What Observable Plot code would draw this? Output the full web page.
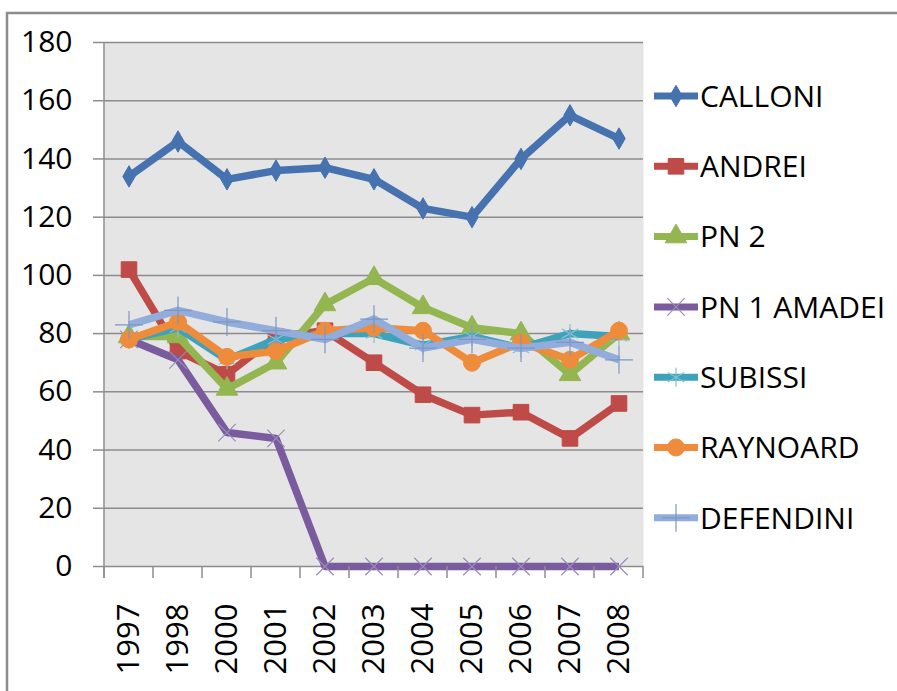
<!DOCTYPE html>
<html>
<head>
<meta charset="utf-8">
<script src="https://cdn.jsdelivr.net/npm/d3@7"></script>
<script src="https://cdn.jsdelivr.net/npm/@observablehq/plot@0.6"></script>
<style>
  html, body { margin: 0; padding: 0; background: #fff; }
  svg { display: block; }
</style>
</head>
<body>
<div id="chart"></div>
<script>
// ---- data ----
const years = ["1997","1998","2000","2001","2002","2003","2004","2005","2006","2007","2008"];
const yTicks = [0, 20, 40, 60, 80, 100, 120, 140, 160, 180];
const seriesNames = ["CALLONI","ANDREI","PN 2","PN 1 AMADEI","SUBISSI","RAYNOARD","DEFENDINI"];
const calloni    = [134, 146, 133, 136, 137, 133, 123, 120, 140, 155, 147];
const andrei     = [102,  74,  66,  79,  81,  70,  59,  52,  53,  44,  56];
const pn2        = [ 79,  79,  61,  70,  90,  99,  89,  82,  80,  66,  80];
const pn1Amadei  = [ 78,  71,  46,  44,   0,   0,   0,   0,   0,   0,   0];
const subissi    = [ 78,  82,  71,  78,  80,  80,  76,  79,  75,  80,  79];
const raynoard   = [ 78,  84,  72,  74,  81,  82,  81,  70,  77,  71,  81];
const defendini  = [ 83,  88,  84,  81,  78,  85,  75,  78,  75,  77,  71];
const seriesValues = [calloni, andrei, pn2, pn1Amadei, subissi, raynoard, defendini];

// ---- styles ----
const colors = ["#4672b0", "#be4b48", "#93b650", "#7a5c9e", "#3fa2bb", "#ef8c3b", "#92acdb"];
const markerStroke = ["#4672b0", "#be4b48", "#93b650", "#9a8cb8", "#7fc3d6", "#ef8c3b", "#7d97c4"];
const symbols = ["diamond", "square", "triangle", "times", "asterisk", "circle", "plus"];
const radii = [6.5, 8.8, 8, 8, 9, 8.5, 9];
const filled = [true, true, true, false, false, true, false];

const rows = seriesNames.flatMap((s, i) =>
  years.map((yr, j) => ({series: s, year: yr, value: seriesValues[i][j]})));

const W = 897, H = 691;
const mL = 104, mR = 254, mT = 42, mB = 125;
const font = "'Open Sans', 'Noto Sans', sans-serif";

const seriesMarks = seriesNames.flatMap((s, i) => {
  const d = rows.filter(r => r.series === s);
  return [
    Plot.line(d, {x: "year", y: "value", stroke: colors[i], strokeWidth: 7.5, strokeLinejoin: "round", strokeLinecap: "butt"}),
    Plot.dot(d, {x: "year", y: "value", symbol: () => symbols[i], r: radii[i],
      fill: filled[i] ? colors[i] : "none",
      stroke: filled[i] ? colors[i] : markerStroke[i],
      strokeWidth: filled[i] ? 1 : 1.2})
  ];
});

const plot = Plot.plot({
  width: W, height: H,
  marginLeft: mL, marginRight: mR, marginTop: mT, marginBottom: mB,
  style: {fontFamily: font, background: "#fff", color: "#000"},
  x: {type: "band", domain: years, padding: 0, round: false, label: null},
  y: {domain: [0, 180], label: null},
  symbol: {type: "identity"},
  marks: [
    Plot.frame({fill: "#e5e5e5", stroke: "none"}),
    Plot.gridY(yTicks, {stroke: "#8c8c8c", strokeOpacity: 1, strokeWidth: 1.5}),
    Plot.axisY(yTicks, {tickSize: 11, tickPadding: 21, fontSize: 30, stroke: "#8c8c8c", strokeWidth: 1.5, tickFormat: d => String(d), label: null}),
    Plot.axisX({tickSize: 0, tickPadding: 37, tickRotate: -90, fontSize: 31, label: null}),
    ...seriesMarks
  ]
});

const svg = d3.select(plot);
const xs = plot.scale("x");
const ys = plot.scale("y");
const y0 = ys.apply(0), y180 = ys.apply(180);

// category boundary ticks below the axis
const bounds = years.map(d => xs.apply(d)).concat([xs.apply(years[years.length - 1]) + xs.bandwidth]);
const g = svg.append("g").attr("stroke", "#8c8c8c").attr("stroke-width", 1.5);
bounds.forEach(b => g.append("line").attr("x1", b).attr("x2", b).attr("y1", y0).attr("y2", y0 + 12));
// left axis line
g.append("line").attr("x1", bounds[0]).attr("x2", bounds[0]).attr("y1", y180).attr("y2", y0 + 12);

// outer chart border
svg.insert("path", ":first-child")
  .attr("d", `M7,${H + 5} V13 H${W + 5}`)
  .attr("fill", "none").attr("stroke", "#8c8c8c").attr("stroke-width", 2.5);

// legend
const lg = svg.append("g").attr("font-family", font).attr("font-size", 30).attr("text-anchor", "start");
seriesNames.forEach((s, i) => {
  const cy = 96 + i * 70.3;
  const gi = lg.append("g");
  gi.append("line").attr("x1", 654).attr("x2", 698).attr("y1", cy).attr("y2", cy)
    .attr("stroke", colors[i]).attr("stroke-width", 7);
  const sym = {diamond: d3.symbolDiamond, square: d3.symbolSquare, triangle: d3.symbolTriangle,
    times: d3.symbolTimes, asterisk: d3.symbolAsterisk, circle: d3.symbolCircle, plus: d3.symbolPlus}[symbols[i]];
  gi.append("path").attr("transform", `translate(676,${cy})`)
    .attr("d", d3.symbol(sym, Math.PI * radii[i] * radii[i])())
    .attr("fill", filled[i] ? colors[i] : "none")
    .attr("stroke", filled[i] ? colors[i] : markerStroke[i])
    .attr("stroke-width", filled[i] ? 1 : 1.2);
  gi.append("text").attr("x", 700).attr("y", cy).attr("dy", "0.36em").attr("fill", "#000").text(s);
});

document.getElementById("chart").appendChild(plot);
</script>
</body>
</html>
